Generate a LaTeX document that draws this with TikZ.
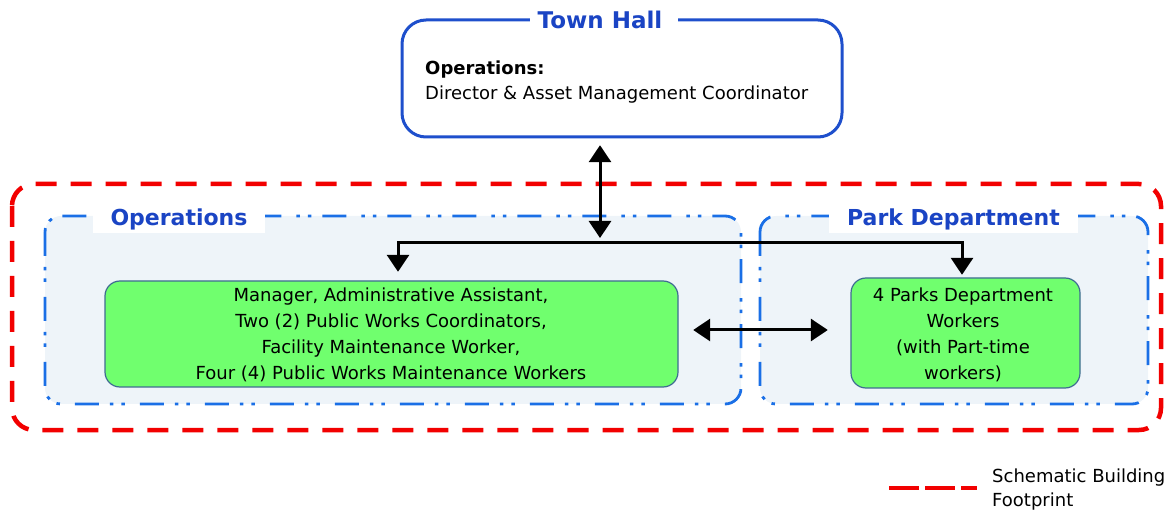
\documentclass[tikz,border=0pt]{standalone}
\usepackage{fontspec}
\setmainfont{DejaVu Sans}
\usetikzlibrary{arrows.meta}
\definecolor{hallblue}{HTML}{1E4FCC}
\definecolor{titleblue}{HTML}{1A44C4}
\definecolor{dotblue}{HTML}{1A6FE6}
\definecolor{zonefill}{HTML}{EEF4F9}
\definecolor{footred}{HTML}{F20000}
\definecolor{staffgreen}{HTML}{70FF6E}
\definecolor{staffedge}{HTML}{3F6C92}
\tikzset{
  hallbox/.style={draw=hallblue, line width=3pt, rounded corners=24pt},
  footprint/.style={draw=footred, line width=4.5pt, dash pattern=on 21pt off 14pt, rounded corners=22pt},
  zonebox/.style={draw=dotblue, fill=zonefill, line width=2.8pt, rounded corners=16pt,
    dash pattern=on 24pt off 11pt on 3.5pt off 8pt on 3.5pt off 15pt},
  zonelabel/.style={fill=white, text=titleblue, font=\fontsize{22}{24}\selectfont\bfseries,
    inner xsep=0pt, inner ysep=0pt, minimum height=28pt},
  staffbox/.style={draw=staffedge, fill=staffgreen, line width=1.2pt, rounded corners=15pt},
  stafftext/.style={align=center, font=\fontsize{18}{26}\selectfont},
  link/.style={line width=3pt, black},
  tip/.style={-{Triangle[width=22pt,length=17pt]}},
  twotip/.style={{Triangle[width=22pt,length=17pt]}-{Triangle[width=22pt,length=17pt]}}
}
\begin{document}
\begin{tikzpicture}[x=1pt,y=-1pt]
\useasboundingbox (0,0) rectangle (1170,510);

% Town Hall
\draw[hallbox] (402,20) rectangle (842,137);
\node[inner sep=0pt, minimum width=440pt, minimum height=117pt] (th) at (622,78.5) {};
\fill[white] (530,10) rectangle (678,30);
\node[text=titleblue, font=\fontsize{23}{26}\selectfont\bfseries, inner sep=1pt]
  (thtitle) at (600,20) {Town Hall};
\node[anchor=base west, inner sep=0pt, font=\fontsize{18}{25}\selectfont\bfseries]
  (thhead) at (425,75) {Operations:};
\node[anchor=base west, inner sep=0pt, font=\fontsize{18}{25}\selectfont]
  (thtext) at (425,100) {Director \& Asset Management Coordinator};

% building footprint
\draw[footprint] (12,184) rectangle (1161,430);

% departments
\draw[zonebox] (45,216) rectangle (741,404);
\draw[zonebox] (760,216) rectangle (1148,404);
\node[zonelabel, minimum width=172pt] (oplabel) at (179,219) {Operations};
\node[zonelabel, minimum width=249pt] (pklabel) at (953.5,219) {Park Department};

% staff groups
\draw[staffbox] (105,281) rectangle (678,387);
\node[inner sep=0pt, minimum width=573pt, minimum height=106pt] (g1) at (391.5,334) {};
\node[stafftext] (g1text) at (391,334.5) {Manager, Administrative Assistant,\\Two (2) Public Works Coordinators,\\Facility Maintenance Worker,\\Four (4) Public Works Maintenance Workers};
\draw[staffbox] (851,278) rectangle (1080,388);
\node[inner sep=0pt, minimum width=229pt, minimum height=110pt] (g2) at (965.5,333) {};
\node[stafftext] (g2text) at (963,335) {4 Parks Department\\Workers\\(with Part-time\\workers)};

% connectors
\coordinate (hub) at (600,243);
\coordinate (bl) at (398,243);
\coordinate (br) at (962,243);
\draw[link, twotip, shorten <=8pt, shorten >=5pt] (hub |- th.south) -- (hub);
\draw[link, tip, shorten >=9pt] (hub) -- (bl) -- (bl |- g1.north);
\draw[link, tip, shorten >=3pt] (hub) -- (br) -- (br |- g2.north);
\draw[link, twotip, shorten <=15pt, shorten >=23pt] (g1.east |- 0,330) -- (g2.west |- 0,330);

% legend
\coordinate (lg1) at (889,488);
\coordinate (lg2) at (977,488);
\draw[draw=footred, line width=4.5pt, dash pattern=on 30pt off 6pt] (lg1) -- (lg2);
\node[anchor=base west, inner sep=0pt, font=\fontsize{18}{24}\selectfont] (legend) at (992,482) {Schematic Building};
\node[anchor=base west, inner sep=0pt, font=\fontsize{18}{24}\selectfont] (legend2) at (992,506) {Footprint};
\end{tikzpicture}
\end{document}
